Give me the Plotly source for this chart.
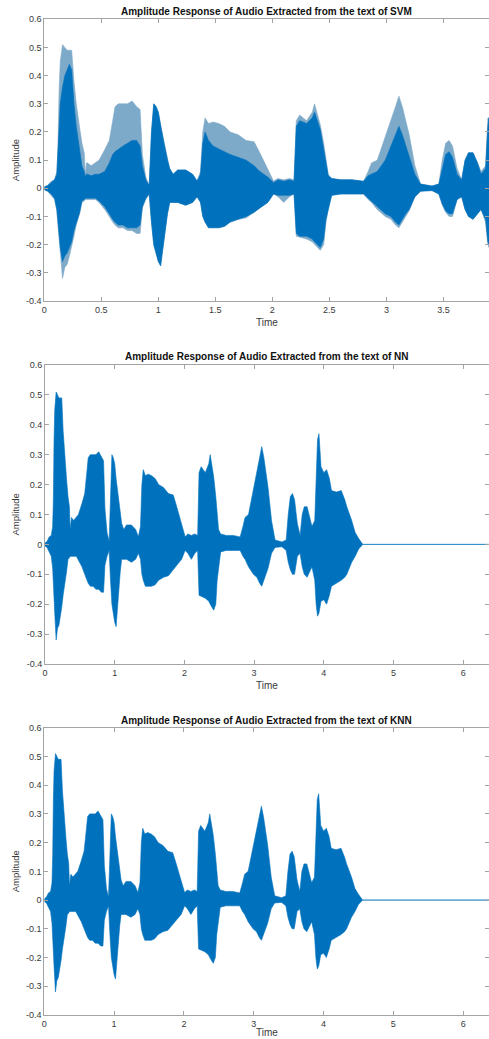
import plotly.graph_objects as go

# ---------------- data (envelopes) ----------------
# NN panel: time (s), upper and lower envelope of the waveform
nn_time = [0.00, 0.03, 0.06, 0.09, 0.11, 0.12, 0.13, 0.14, 0.16, 0.18, 0.20, 0.22, 0.24, 0.26,
           0.28, 0.31, 0.33, 0.35, 0.36, 0.37, 0.38, 0.41, 0.45, 0.48, 0.53, 0.57, 0.60, 0.62,
           0.65, 0.69, 0.73, 0.77, 0.81, 0.84, 0.86, 0.89, 0.92, 0.94, 0.96, 0.98, 1.00, 1.02,
           1.05, 1.08, 1.10, 1.13, 1.17, 1.24, 1.30, 1.34, 1.37, 1.39, 1.41, 1.44, 1.48, 1.53,
           1.58, 1.63, 1.70, 1.77, 1.84, 1.89, 1.96, 2.01, 2.05, 2.10, 2.15, 2.19, 2.21, 2.24,
           2.30, 2.35, 2.37, 2.42, 2.45, 2.47, 2.49, 2.52, 2.60, 2.70, 2.80, 2.84, 2.87, 2.92,
           2.99, 3.04, 3.08, 3.11, 3.14, 3.17, 3.20, 3.25, 3.30, 3.40, 3.46, 3.49, 3.52, 3.55,
           3.58, 3.62, 3.66, 3.69, 3.72, 3.76, 3.80, 3.83, 3.87, 3.89, 3.91, 3.93, 3.96, 4.00,
           4.04, 4.08, 4.11, 4.18, 4.25, 4.30, 4.33, 4.40, 4.45, 4.50, 4.54, 4.56, 6.40]
nn_upper = [0.005, 0.01, 0.025, 0.03, 0.06, 0.15, 0.35, 0.45, 0.51, 0.50, 0.49, 0.49, 0.49, 0.38,
            0.30, 0.215, 0.16, 0.126, 0.05, 0.09, 0.09, 0.08, 0.09, 0.10, 0.137, 0.17, 0.24, 0.29,
            0.30, 0.30, 0.30, 0.31, 0.29, 0.28, 0.12, 0.04, 0.01, 0.20, 0.30, 0.29, 0.27, 0.22,
            0.16, 0.10, 0.07, 0.05, 0.065, 0.065, 0.05, 0.026, 0.06, 0.20, 0.25, 0.23, 0.235, 0.23,
            0.22, 0.20, 0.19, 0.17, 0.165, 0.126, 0.07, 0.026, 0.035, 0.03, 0.035, 0.03, 0.24, 0.26,
            0.24, 0.27, 0.30, 0.226, 0.16, 0.10, 0.05, 0.035, 0.03, 0.03, 0.025, 0.06, 0.09, 0.10,
            0.18, 0.24, 0.29, 0.327, 0.29, 0.24, 0.19, 0.08, 0.015, 0.008, 0.015, 0.10, 0.16, 0.17,
            0.15, 0.07, 0.03, 0.10, 0.126, 0.126, 0.09, 0.06, 0.08, 0.25, 0.35, 0.37, 0.26, 0.24,
            0.25, 0.22, 0.18, 0.175, 0.18, 0.15, 0.126, 0.08, 0.04, 0.02, 0.005, 0.0, 0.0]
nn_lower = [-0.005, -0.01, -0.025, -0.04, -0.08, -0.12, -0.17, -0.23, -0.32, -0.28, -0.27, -0.24, -0.21, -0.17,
            -0.13, -0.09, -0.05, -0.045, -0.04, -0.04, -0.04, -0.04, -0.04, -0.05, -0.075, -0.10, -0.12, -0.13,
            -0.14, -0.14, -0.15, -0.15, -0.16, -0.16, -0.07, -0.04, -0.02, -0.12, -0.20, -0.23, -0.26, -0.275,
            -0.175, -0.09, -0.05, -0.05, -0.05, -0.06, -0.05, -0.03, -0.05, -0.10, -0.12, -0.14, -0.14, -0.14,
            -0.135, -0.12, -0.11, -0.105, -0.085, -0.07, -0.05, -0.02, -0.03, -0.05, -0.03, -0.02, -0.17, -0.175,
            -0.18, -0.19, -0.20, -0.22, -0.20, -0.12, -0.075, -0.025, -0.02, -0.02, -0.02, -0.04, -0.05, -0.075,
            -0.10, -0.11, -0.13, -0.14, -0.12, -0.10, -0.08, -0.03, -0.01, -0.008, -0.02, -0.06, -0.085, -0.10,
            -0.10, -0.04, -0.03, -0.075, -0.10, -0.11, -0.09, -0.075, -0.12, -0.20, -0.24, -0.23, -0.19, -0.185,
            -0.20, -0.17, -0.14, -0.13, -0.12, -0.11, -0.10, -0.06, -0.04, -0.015, -0.005, 0.0, 0.0]

# KNN panel (reads the same as NN)
knn_time = list(nn_time)
knn_upper = list(nn_upper)
knn_lower = list(nn_lower)

# SVM panel: outer (sparse spikes) and dense core envelopes, up to the crop at 3.9 s
svm_time = nn_time[:108] + [3.90]
svm_peak_upper = nn_upper[:107] + [0.25, 0.25]
svm_peak_lower = nn_lower[:107] + [-0.20, -0.21]
svm_core_upper = [0.005, 0.01, 0.02, 0.03, 0.05, 0.12, 0.22, 0.30, 0.36, 0.40, 0.42, 0.44, 0.42, 0.30,
                  0.22, 0.13, 0.08, 0.06, 0.04, 0.05, 0.05, 0.045, 0.05, 0.05, 0.06, 0.09, 0.12, 0.13,
                  0.14, 0.15, 0.16, 0.17, 0.17, 0.15, 0.08, 0.03, 0.01, 0.20, 0.30, 0.29, 0.27, 0.22,
                  0.16, 0.10, 0.07, 0.05, 0.065, 0.065, 0.05, 0.026, 0.05, 0.16, 0.20, 0.17, 0.15, 0.14,
                  0.13, 0.12, 0.11, 0.10, 0.08, 0.06, 0.04, 0.02, 0.03, 0.025, 0.03, 0.025, 0.22, 0.24,
                  0.23, 0.25, 0.27, 0.21, 0.14, 0.09, 0.045, 0.035, 0.03, 0.03, 0.025, 0.045, 0.05, 0.06,
                  0.10, 0.15, 0.19, 0.22, 0.19, 0.15, 0.11, 0.05, 0.015, 0.008, 0.015, 0.07, 0.12, 0.13,
                  0.11, 0.05, 0.03, 0.10, 0.126, 0.126, 0.09, 0.05, 0.07, 0.22, 0.25]
svm_core_lower = [-0.005, -0.01, -0.02, -0.035, -0.075, -0.115, -0.16, -0.21, -0.26, -0.24, -0.23, -0.21, -0.19, -0.15,
                  -0.12, -0.085, -0.045, -0.04, -0.035, -0.035, -0.035, -0.035, -0.035, -0.045, -0.065, -0.09, -0.11, -0.12,
                  -0.13, -0.13, -0.14, -0.14, -0.14, -0.13, -0.065, -0.035, -0.02, -0.12, -0.20, -0.23, -0.26, -0.275,
                  -0.175, -0.09, -0.05, -0.05, -0.05, -0.06, -0.05, -0.03, -0.05, -0.10, -0.12, -0.14, -0.14, -0.14,
                  -0.135, -0.12, -0.11, -0.10, -0.085, -0.07, -0.05, -0.02, -0.025, -0.025, -0.025, -0.02, -0.16, -0.17,
                  -0.17, -0.18, -0.19, -0.21, -0.18, -0.11, -0.07, -0.025, -0.02, -0.02, -0.02, -0.035, -0.045, -0.065,
                  -0.09, -0.10, -0.12, -0.13, -0.11, -0.09, -0.075, -0.03, -0.01, -0.008, -0.02, -0.055, -0.08, -0.09,
                  -0.09, -0.04, -0.03, -0.075, -0.10, -0.11, -0.09, -0.075, -0.11, -0.19, -0.20]

titles = ["Amplitude Response of Audio Extracted from the text of SVM",
          "Amplitude Response of Audio Extracted from the text of NN",
          "Amplitude Response of Audio Extracted from the text of KNN"]
y_tickvals = [-0.4, -0.3, -0.2, -0.1, 0, 0.1, 0.2, 0.3, 0.4, 0.5, 0.6]
y_ticktext = ["-0.4", "-0.3", "-0.2", "-0.1", "0", "0.1", "0.2", "0.3", "0.4", "0.5", "0.6"]
svm_xticks = [0, 0.5, 1, 1.5, 2, 2.5, 3, 3.5]
svm_xtext = ["0", "0.5", "1", "1.5", "2", "2.5", "3", "3.5"]
nn_xticks = [0, 1, 2, 3, 4, 5, 6]
nn_xtext = ["0", "1", "2", "3", "4", "5", "6"]

# ---------------- layout helpers ----------------
W, H = 489, 1039
BLUE = "#0072BD"
LIGHT = "#7eaaca"
AXC = "#a3a3a3"
TXT = "#3a3a3a"
FONT = "Liberation Sans, Arial, sans-serif"

# pixel geometry of each panel: (left, top, bottom)
panels = [(44.3, 19.3, 301.0), (45.0, 365.0, 664.0), (44.3, 727.7, 1015.0)]
title_y = [12, 357, 720]
time_y = [322, 685, 1032]


def band(x, up, lo):
    return list(x) + list(x)[::-1], list(up) + list(lo)[::-1]


fig = go.Figure()

# SVM: sparse spikes (lighter) then dense core
bx, by = band(svm_time, svm_peak_upper, svm_peak_lower)
fig.add_trace(go.Scatter(x=bx, y=by, fill="toself", fillcolor=LIGHT, mode="lines",
                         line=dict(color=LIGHT, width=0.6), xaxis="x", yaxis="y",
                         hoverinfo="skip", showlegend=False))
bx, by = band(svm_time, svm_core_upper, svm_core_lower)
fig.add_trace(go.Scatter(x=bx, y=by, fill="toself", fillcolor=BLUE, mode="lines",
                         line=dict(color=BLUE, width=0.6), xaxis="x", yaxis="y",
                         hoverinfo="skip", showlegend=False))
# NN
bx, by = band(nn_time, nn_upper, nn_lower)
fig.add_trace(go.Scatter(x=bx, y=by, fill="toself", fillcolor=BLUE, mode="lines",
                         line=dict(color=BLUE, width=0.6), xaxis="x2", yaxis="y2",
                         hoverinfo="skip", showlegend=False))
# KNN
bx, by = band(knn_time, knn_upper, knn_lower)
fig.add_trace(go.Scatter(x=bx, y=by, fill="toself", fillcolor=BLUE, mode="lines",
                         line=dict(color=BLUE, width=0.6), xaxis="x3", yaxis="y3",
                         hoverinfo="skip", showlegend=False))

layout = dict(width=W, height=H, margin=dict(l=0, r=0, t=0, b=0, pad=0),
              paper_bgcolor="white", plot_bgcolor="white", showlegend=False,
              font=dict(family=FONT, size=9, color=TXT))

xranges = [[0, 3.9], [0, 6.37], [0, 6.37]]
xt = [(svm_xticks, svm_xtext), (nn_xticks, nn_xtext), (nn_xticks, nn_xtext)]
annotations = []
for i, (left, top, bottom) in enumerate(panels):
    sfx = "" if i == 0 else str(i + 1)
    xd = [left / W, 1.0]
    yd = [1 - bottom / H, 1 - top / H]
    common = dict(showline=True, linecolor=AXC, linewidth=1, mirror="ticks", ticks="inside",
                  ticklen=4, tickcolor=AXC, tickwidth=1, showgrid=False, zeroline=False,
                  automargin=False,
                  tickfont=dict(family=FONT, size=9, color=TXT), fixedrange=True)
    layout["xaxis" + sfx] = dict(domain=xd, range=xranges[i], tickmode="array",
                                 tickvals=xt[i][0], ticktext=xt[i][1],
                                 anchor="y" + sfx, **common)
    layout["yaxis" + sfx] = dict(domain=yd, range=[-0.4, 0.6], tickmode="array",
                                 tickvals=y_tickvals, ticktext=y_ticktext,
                                 anchor="x" + sfx, **common)
    cx = (left + W) / 2 / W
    annotations.append(dict(text="<b>" + titles[i] + "</b>", xref="paper", yref="paper",
                            x=cx, y=1 - title_y[i] / H, xanchor="center", yanchor="middle",
                            showarrow=False, font=dict(family=FONT, size=10, color="#111111")))
    annotations.append(dict(text="Time", xref="paper", yref="paper",
                            x=cx, y=1 - time_y[i] / H, xanchor="center", yanchor="middle",
                            showarrow=False, font=dict(family=FONT, size=10, color=TXT)))
    annotations.append(dict(text="Amplitude", xref="paper", yref="paper", textangle=-90,
                            x=15 / W, y=1 - (top + bottom) / 2 / H, xanchor="center",
                            yanchor="middle", showarrow=False,
                            font=dict(family=FONT, size=9.5, color=TXT)))
layout["annotations"] = annotations
fig.update_layout(**layout)

fig.write_html("out.html", config={"displayModeBar": False},
               post_script="document.body.style.margin='0';document.body.style.overflow='hidden';")
